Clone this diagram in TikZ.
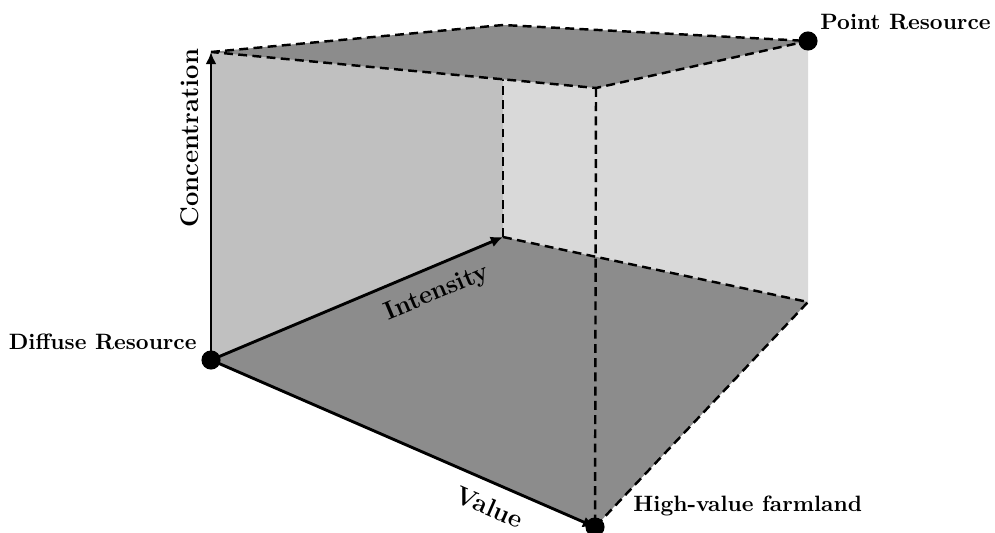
\documentclass[tikz,border=0pt]{standalone}
\usepackage{tikz}
\usetikzlibrary{arrows.meta,positioning}
\definecolor{roof}{HTML}{8C8C8C}
\definecolor{wallleft}{HTML}{C0C0C0}
\definecolor{wallright}{HTML}{D9D9D9}

\begin{document}
\begin{tikzpicture}[x=0.45pt,y=-0.45pt,edge/.style={dash pattern=on 4pt off 2.4pt,line width=1.1pt},axis/.style={-{Latex[length=5.5pt,width=5pt]},line width=1.3pt},dot/.style={circle,fill=black,inner sep=0pt,minimum size=8.6pt},lbl/.style={font=\bfseries,inner sep=0pt},axlbl/.style={font=\fontsize{11.5}{13}\selectfont\bfseries,sloped,inner sep=0pt}]
\useasboundingbox (0,0) rectangle (995,533);
\coordinate (O) at (211,360);
\coordinate (C) at (211,52);
\coordinate (I) at (503,237);
\coordinate (V) at (595,527);
\coordinate (IC) at (503,25);
\coordinate (P) at (808,41);
\coordinate (VC) at (596,88);
\coordinate (R) at (808,302);
% walls and floor
\fill[wallleft] (O) -- (C) -- (IC) -- (I) -- cycle;
\fill[wallright] (I) -- (IC) -- (P) -- (R) -- cycle;
\fill[roof] (O) -- (I) -- (R) -- (V) -- cycle;
\draw[edge] (I) -- (IC);
\draw[edge] (I) -- (R) -- (V);
\draw[edge] (VC) -- (V);
\filldraw[fill=roof,edge] (C) -- (IC) -- (P) -- (VC) -- cycle;
% axes
\draw[axis] (O) -- node[axlbl,pos=0.72,above=5pt] (conc) {Concentration} (C);
\draw[axis] (O) -- node[axlbl,pos=0.74,below=6pt] (inten) {Intensity} (I);
\draw[axis] (O) -- node[axlbl,pos=0.75,below=6pt] (val) {Value} (V);
\node[dot] (diffuse) at (O) {};
\node[dot] (farm) at (V) {};
\node[dot] (point) at (P) {};
\node[lbl,anchor=east] (difflbl) at (197,342) {Diffuse Resource};
\node[lbl,anchor=west] (pointlbl) at (820,22) {Point Resource};
\node[lbl,anchor=west] (farmlbl) at (633,506) {High-value farmland};
\end{tikzpicture}
\end{document}
